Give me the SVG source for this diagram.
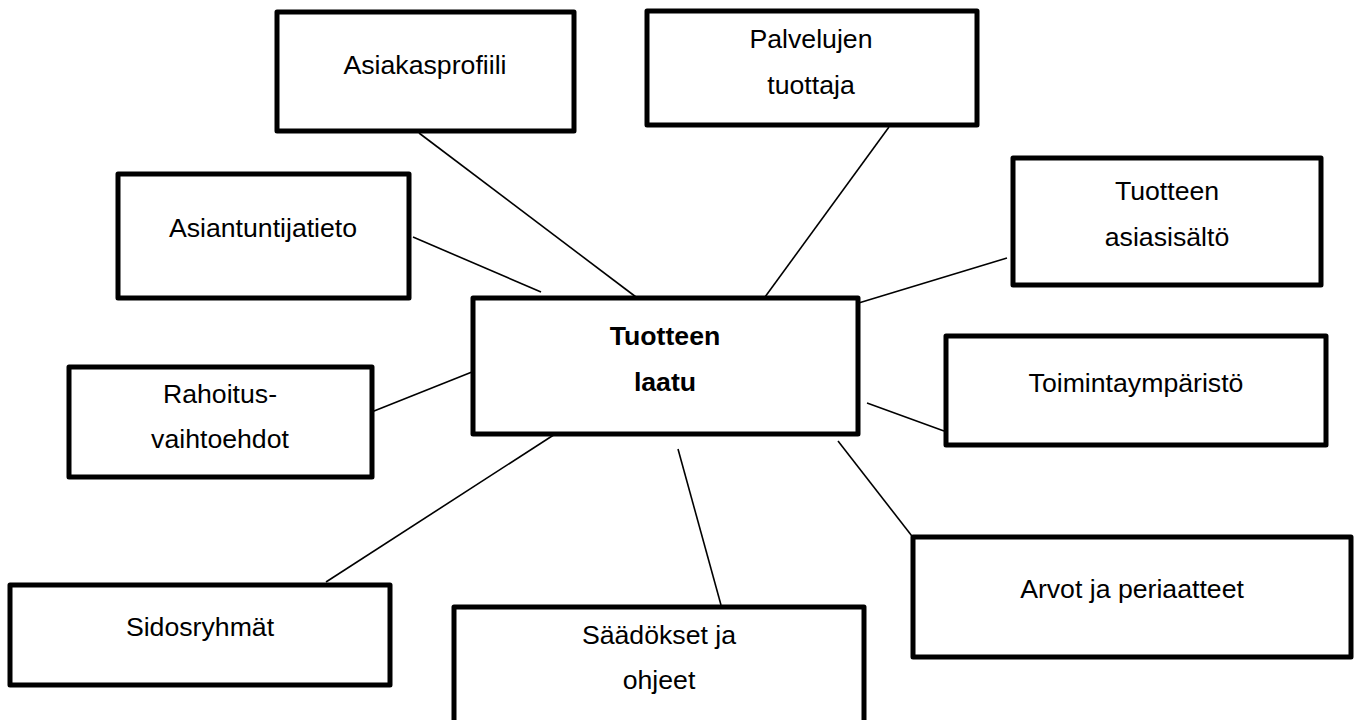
<svg xmlns="http://www.w3.org/2000/svg" width="1355" height="720" viewBox="0 0 1355 720">
  <style>
    .box { fill: #ffffff; stroke: #000000; stroke-width: 5; stroke-linejoin: round; }
    .lbl { font-family: "Liberation Sans", Arial, sans-serif; font-size: 26.67px; fill: #000000; text-anchor: middle; }
    .main { font-weight: bold; }
    .conn line { stroke: #000000; stroke-width: 1.6; stroke-linecap: butt; }
  </style>
  <rect width="1355" height="720" fill="#ffffff"/>

  <!-- connectors from the centre node to each surrounding node -->
  <g id="connectors" class="conn">
    <line x1="419" y1="133" x2="636" y2="297"/>
    <line x1="889" y1="127" x2="765" y2="297"/>
    <line x1="413" y1="237" x2="541" y2="292"/>
    <line x1="1007" y1="258" x2="852" y2="305"/>
    <line x1="369" y1="413" x2="482" y2="368"/>
    <line x1="867" y1="403" x2="944" y2="431"/>
    <line x1="326" y1="582" x2="566" y2="427"/>
    <line x1="678" y1="449" x2="721" y2="605"/>
    <line x1="838" y1="441" x2="915" y2="540"/>
  </g>

  <g id="node-asiakasprofiili">
    <rect class="box" x="277" y="12" width="297" height="119"/>
    <text class="lbl" x="425" y="74">Asiakasprofiili</text>
  </g>

  <g id="node-palvelujen-tuottaja">
    <rect class="box" x="647" y="11" width="330" height="114"/>
    <text class="lbl" x="811" y="48">Palvelujen</text>
    <text class="lbl" x="811" y="94">tuottaja</text>
  </g>

  <g id="node-asiantuntijatieto">
    <rect class="box" x="118" y="174" width="291" height="124"/>
    <text class="lbl" x="263" y="237">Asiantuntijatieto</text>
  </g>

  <g id="node-tuotteen-asiasisalto">
    <rect class="box" x="1013" y="158" width="308" height="127"/>
    <text class="lbl" x="1167" y="200">Tuotteen</text>
    <text class="lbl" x="1167" y="246">asiasisältö</text>
  </g>

  <g id="node-tuotteen-laatu">
    <rect class="box" x="473" y="298" width="385" height="136"/>
    <text class="lbl main" x="665" y="345">Tuotteen</text>
    <text class="lbl main" x="665" y="391">laatu</text>
  </g>

  <g id="node-rahoitusvaihtoehdot">
    <rect class="box" x="69" y="367" width="303" height="110"/>
    <text class="lbl" x="220" y="403">Rahoitus-</text>
    <text class="lbl" x="220" y="448">vaihtoehdot</text>
  </g>

  <g id="node-toimintaymparisto">
    <rect class="box" x="946" y="336" width="380" height="109"/>
    <text class="lbl" x="1136" y="392">Toimintaympäristö</text>
  </g>

  <g id="node-sidosryhmat">
    <rect class="box" x="10" y="585" width="380" height="100"/>
    <text class="lbl" x="200" y="636">Sidosryhmät</text>
  </g>

  <g id="node-saadokset">
    <rect class="box" x="454" y="607" width="410" height="125"/>
    <text class="lbl" x="659" y="644">Säädökset ja</text>
    <text class="lbl" x="659" y="689">ohjeet</text>
  </g>

  <g id="node-arvot">
    <rect class="box" x="913" y="537" width="438" height="120"/>
    <text class="lbl" x="1132" y="598">Arvot ja periaatteet</text>
  </g>
</svg>
